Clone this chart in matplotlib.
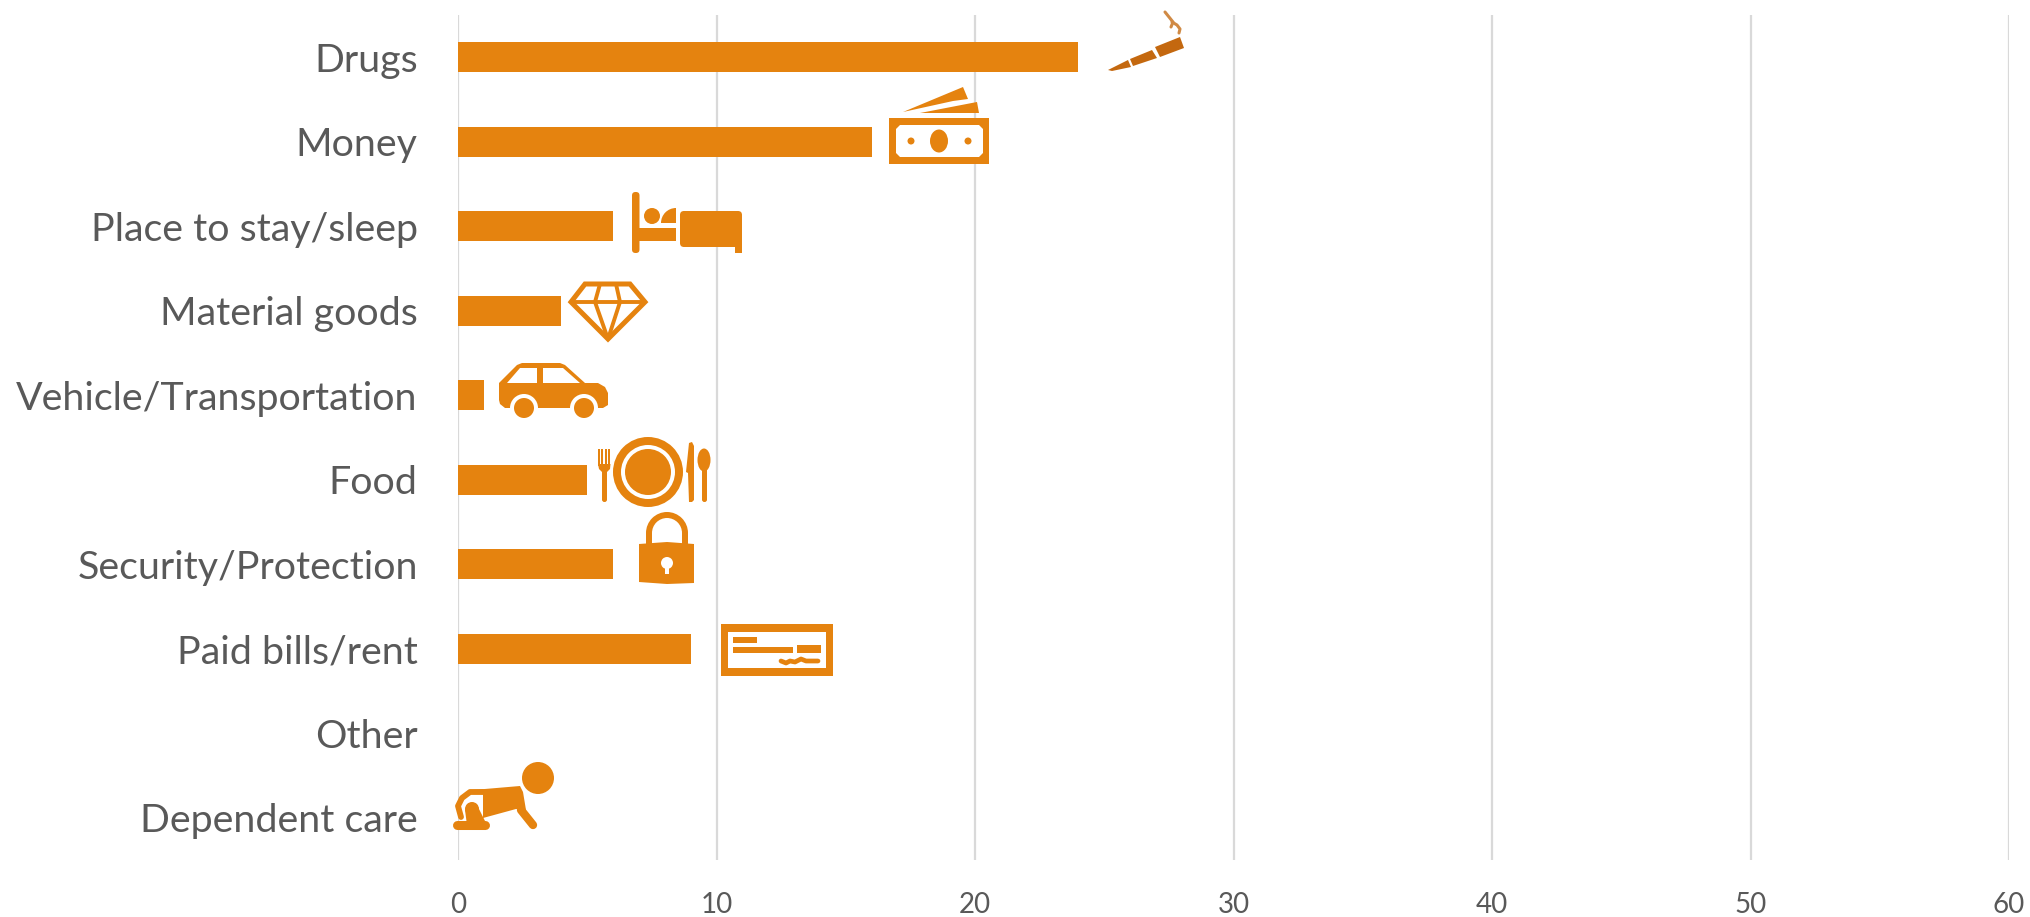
import matplotlib
matplotlib.use('Agg')
import matplotlib.pyplot as plt
from matplotlib.patches import Circle, Polygon, Rectangle, FancyBboxPatch, Wedge, Ellipse

plt.rcParams['font.family'] = ['Lato', 'DejaVu Sans']

categories = ['Drugs', 'Money', 'Place to stay/sleep', 'Material goods',
              'Vehicle/Transportation', 'Food', 'Security/Protection',
              'Paid bills/rent', 'Other', 'Dependent care']
counts = [24, 16, 6, 4, 1, 5, 6, 9, 0, 0]
xticks = [0, 10, 20, 30, 40, 50, 60]

orange = '#E5830F'
brown = '#C4680F'
grey = '#595959'
W, H = 2030, 917

fig = plt.figure(figsize=(W / 100, H / 100), dpi=100)
ax = fig.add_axes([458 / W, 1 - 860 / H, (2009 - 458) / W, (860 - 15) / H])

ypos = list(range(len(categories)))
ax.barh(ypos, counts, height=0.36, color=orange, zorder=3)
ax.set_ylim(len(categories) - 0.5, -0.5)
ax.set_xlim(0, 60)
ax.set_xticks(xticks)
ax.set_yticks(ypos)
ax.set_yticklabels(categories)
ax.tick_params(axis='y', length=0, labelsize=28.4, labelcolor=grey, pad=29)
ax.tick_params(axis='x', length=0, labelsize=20, labelcolor=grey, pad=23)
ax.grid(axis='x', color='#D9D9D9', linewidth=1.6, zorder=0)
for s in ax.spines.values():
    s.set_visible(False)

# icons are drawn on a pixel overlay
ov = fig.add_axes([0, 0, 1, 1], facecolor='none')
ov.set_xlim(0, W)
ov.set_ylim(H, 0)
ov.axis('off')

def rect(x, y, w, h, c=orange):
    ov.add_patch(Rectangle((x, y), w, h, color=c, lw=0))

def circ(x, y, r, c=orange):
    ov.add_patch(Circle((x, y), r, color=c, lw=0))

def poly(pts, c=orange):
    ov.add_patch(Polygon(pts, closed=True, color=c, lw=0))

def line(xs, ys, lw=4, c=orange, cap='round'):
    ov.plot(xs, ys, color=c, lw=lw, solid_capstyle=cap, solid_joinstyle='round')

def rounded(x, y, w, h, r, c=orange):
    ov.add_patch(FancyBboxPatch((x, y), w, h, boxstyle=f'round,pad=0,rounding_size={r}',
                                color=c, lw=0))

# joint
poly([(1108, 70), (1128, 60), (1131, 67), (1112, 71)], brown)
poly([(1130, 59), (1152, 50), (1157, 58), (1133, 66)], brown)
poly([(1155, 47), (1180, 37), (1184, 48), (1160, 57)], brown)
line([1165, 1169, 1173, 1171], [12, 17, 22, 27], 2.2, '#D08A45')
line([1172, 1177, 1180, 1179], [22, 25, 29, 33], 2.2, '#D08A45')

# banknotes
poly([(903, 112), (963, 87), (968, 99), (953, 101)])
poly([(920, 113), (977, 102), (979, 113), (953, 113)])
rect(889, 118, 100, 46)
poly([(900, 125), (979, 125), (983, 129), (983, 153), (979, 157), (900, 157), (896, 153), (896, 129)], 'white')
ov.add_patch(Ellipse((939, 141), 18, 23, color=orange, lw=0))
circ(911, 141, 3.5)
circ(968, 141, 3.5)

# bed
rounded(632, 192, 7.5, 61, 3.5)
rect(632, 228, 44, 13)
circ(652, 216, 8)
ov.add_patch(Wedge((676, 223), 15, 180, 270, color=orange, lw=0))
rounded(680, 211, 62, 36, 4)
rect(735, 240, 7, 13)

# diamond
ov.add_patch(Polygon([(571, 302), (585, 284), (630, 284), (645, 302), (608, 339)],
                     closed=True, fc='white', ec=orange, lw=3.6, joinstyle='miter'))
line([570, 646], [302, 302], 2.8, cap='butt')
line([600, 595, 608, 620, 616], [284, 302, 339, 302, 284], 2.8, cap='butt')

# car
poly([(499, 383), (517, 365), (522, 363), (560, 363), (565, 365), (585, 383), (598, 383),
      (605, 387), (608, 393), (608, 405), (603, 408), (505, 408), (500, 404), (499, 400)])
poly([(507, 383), (520, 368), (537, 368), (537, 383)], 'white')
poly([(543, 368), (563, 368), (580, 383), (543, 383)], 'white')
circ(524, 408, 14, 'white')
circ(524, 408, 10)
circ(584, 408, 14, 'white')
circ(584, 408, 10)

# plate and cutlery
circ(648, 472, 35)
circ(648, 472, 27, 'white')
circ(648, 472, 23)
for tine_x in [598, 601.5, 605, 608.5]:
    rect(tine_x, 449, 2, 17)
poly([(598, 464), (610.5, 464), (610, 469), (607, 472), (602, 472), (599, 469)])
rounded(602, 468, 5, 34, 2.4)
poly([(689, 443), (692, 442), (694, 446), (694, 500), (692, 502), (689, 502), (688, 473), (686, 472)])
ov.add_patch(Ellipse((704, 460), 13, 23, color=orange, lw=0))
rounded(702, 466, 5, 36, 2.4)

# padlock
ov.add_patch(Wedge((667, 533), 21, 180, 360, width=6, color=orange, lw=0))
rect(646, 533, 6, 12)
rect(682, 533, 6, 12)
poly([(639, 544), (667, 542), (694, 544), (694, 583), (667, 584), (639, 582)])
circ(667, 563, 6, 'white')
rect(665, 563, 4, 11, 'white')

# cheque
rect(721, 624, 112, 52)
rect(728, 632, 98, 36, 'white')
rect(733, 637, 24, 6)
rect(733, 647, 60, 6)
rect(797, 645, 24, 8)
line([781, 786, 790, 795, 801, 806, 812, 818], [661, 663, 661, 662, 659, 661, 661, 661], 3.4)

# crawling baby
circ(538, 778, 16)
line([483, 470, 462, 458, 461], [792, 792, 798, 806, 817], 4.2)
poly([(473, 790), (520, 786), (523, 792), (526, 810), (516, 809), (483, 818), (483, 791)])
line([521, 533], [810, 825], 6)
circ(472, 809, 7)
poly([(465, 810), (478, 807), (487, 825), (467, 825)])
line([457, 485], [825, 825], 6.5)

fig.savefig('out.png', dpi=100)
